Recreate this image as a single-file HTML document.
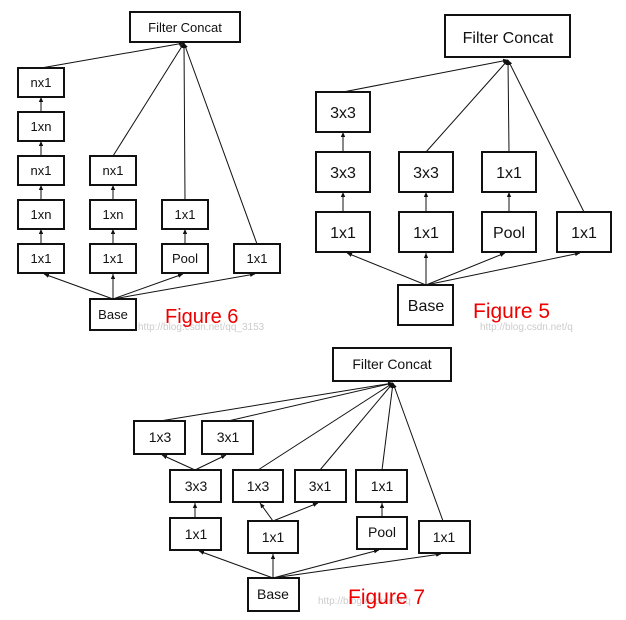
<!DOCTYPE html>
<html><head><meta charset="utf-8"><style>
html,body{margin:0;padding:0;background:#fff;}
svg{display:block;}
text{font-family:"Liberation Sans",sans-serif;}
</style></head><body>
<svg width="626" height="620" viewBox="0 0 626 620" xmlns="http://www.w3.org/2000/svg">
<defs><marker id="a" markerWidth="6" markerHeight="6" refX="5" refY="3" orient="auto" markerUnits="userSpaceOnUse"><path d="M0,0.8 L5,3 L0,5.2z" fill="#111"/></marker></defs>
<g stroke="#111" stroke-width="1" fill="none" marker-end="url(#a)">
<line x1="41" y1="68" x2="184" y2="43"/>
<line x1="113" y1="156" x2="184" y2="43"/>
<line x1="185" y1="200" x2="184" y2="43"/>
<line x1="257" y1="244" x2="184" y2="43"/>
<line x1="41" y1="112" x2="41" y2="97"/>
<line x1="41" y1="156" x2="41" y2="141"/>
<line x1="41" y1="200" x2="41" y2="185"/>
<line x1="41" y1="244" x2="41" y2="229"/>
<line x1="113" y1="200" x2="113" y2="185"/>
<line x1="113" y1="244" x2="113" y2="229"/>
<line x1="185" y1="244" x2="185" y2="229"/>
<line x1="113" y1="299" x2="44" y2="274"/>
<line x1="113" y1="299" x2="113" y2="274"/>
<line x1="113" y1="299" x2="183" y2="274"/>
<line x1="113" y1="299" x2="255" y2="274"/>
<line x1="343" y1="92" x2="508" y2="60"/>
<line x1="426" y1="152" x2="508" y2="60"/>
<line x1="509" y1="152" x2="508" y2="60"/>
<line x1="584" y1="212" x2="508" y2="60"/>
<line x1="343" y1="152" x2="343" y2="132"/>
<line x1="343" y1="212" x2="343" y2="192"/>
<line x1="426" y1="212" x2="426" y2="192"/>
<line x1="509" y1="212" x2="509" y2="192"/>
<line x1="426" y1="285" x2="347" y2="253"/>
<line x1="426" y1="285" x2="426" y2="253"/>
<line x1="426" y1="285" x2="505" y2="253"/>
<line x1="426" y1="285" x2="580" y2="253"/>
<line x1="160" y1="421" x2="393" y2="383"/>
<line x1="228" y1="421" x2="393" y2="383"/>
<line x1="258" y1="470" x2="393" y2="383"/>
<line x1="320" y1="470" x2="393" y2="383"/>
<line x1="382" y1="470" x2="393" y2="383"/>
<line x1="443" y1="521" x2="393" y2="383"/>
<line x1="195" y1="470" x2="162" y2="455"/>
<line x1="195" y1="470" x2="226" y2="455"/>
<line x1="195" y1="518" x2="195" y2="503"/>
<line x1="273" y1="521" x2="260" y2="503"/>
<line x1="273" y1="521" x2="318" y2="503"/>
<line x1="382" y1="517" x2="382" y2="503"/>
<line x1="273" y1="578" x2="199" y2="551"/>
<line x1="273" y1="578" x2="273" y2="554"/>
<line x1="273" y1="578" x2="379" y2="550"/>
<line x1="273" y1="578" x2="441" y2="554"/>
</g>
<g stroke="#111" stroke-width="2" fill="#fff">
<rect x="130" y="12" width="110" height="30"/>
<rect x="18" y="68" width="46" height="29"/>
<rect x="18" y="112" width="46" height="29"/>
<rect x="18" y="156" width="46" height="29"/>
<rect x="90" y="156" width="46" height="29"/>
<rect x="18" y="200" width="46" height="29"/>
<rect x="90" y="200" width="46" height="29"/>
<rect x="162" y="200" width="46" height="29"/>
<rect x="18" y="244" width="46" height="29"/>
<rect x="90" y="244" width="46" height="29"/>
<rect x="162" y="244" width="46" height="29"/>
<rect x="234" y="244" width="46" height="29"/>
<rect x="90" y="299" width="46" height="31"/>
<rect x="445" y="15" width="125" height="42"/>
<rect x="316" y="92" width="54" height="40"/>
<rect x="316" y="152" width="54" height="40"/>
<rect x="399" y="152" width="54" height="40"/>
<rect x="482" y="152" width="54" height="40"/>
<rect x="316" y="212" width="54" height="40"/>
<rect x="399" y="212" width="54" height="40"/>
<rect x="482" y="212" width="54" height="40"/>
<rect x="557" y="212" width="54" height="40"/>
<rect x="398" y="285" width="55" height="40"/>
<rect x="333" y="348" width="118" height="33"/>
<rect x="134" y="421" width="51" height="33"/>
<rect x="202" y="421" width="51" height="33"/>
<rect x="170" y="470" width="51" height="32"/>
<rect x="233" y="470" width="50" height="32"/>
<rect x="295" y="470" width="51" height="32"/>
<rect x="356" y="470" width="51" height="32"/>
<rect x="170" y="518" width="51" height="32"/>
<rect x="248" y="521" width="50" height="32"/>
<rect x="357" y="517" width="50" height="32"/>
<rect x="419" y="521" width="51" height="32"/>
<rect x="248" y="578" width="51" height="33"/>
</g>
<g fill="#111" text-anchor="middle" font-size="13">
<text x="185" y="32">Filter Concat</text>
<text x="41" y="87">nx1</text><text x="41" y="131">1xn</text><text x="41" y="175">nx1</text>
<text x="113" y="175">nx1</text><text x="41" y="219">1xn</text><text x="113" y="219">1xn</text>
<text x="185" y="219">1x1</text><text x="41" y="263">1x1</text><text x="113" y="263">1x1</text>
<text x="185" y="263">Pool</text><text x="257" y="263">1x1</text><text x="113" y="319">Base</text>
</g>
<g fill="#111" text-anchor="middle" font-size="16">
<text x="508" y="43">Filter Concat</text>
<text x="343" y="118">3x3</text><text x="343" y="178">3x3</text><text x="426" y="178">3x3</text>
<text x="509" y="178">1x1</text><text x="343" y="238">1x1</text><text x="426" y="238">1x1</text>
<text x="509" y="238">Pool</text><text x="584" y="238">1x1</text><text x="426" y="311">Base</text>
</g>
<g fill="#111" text-anchor="middle" font-size="14">
<text x="392" y="369">Filter Concat</text>
<text x="160" y="442">1x3</text><text x="228" y="442">3x1</text>
<text x="196" y="491">3x3</text><text x="258" y="491">1x3</text><text x="320" y="491">3x1</text><text x="382" y="491">1x1</text>
<text x="196" y="539">1x1</text><text x="273" y="542">1x1</text><text x="382" y="537">Pool</text><text x="444" y="542">1x1</text>
<text x="273" y="599">Base</text>
</g>
<g fill="#ccc" font-family="Liberation Mono,monospace" font-size="10">
<text x="138" y="330">http://blog.csdn.net/qq_3153</text>
<text x="480" y="330">http://blog.csdn.net/q</text>
<text x="318" y="604">http://blog.csdn.net/q</text>
</g>
<g fill="#e00" font-family="DejaVu Sans,sans-serif">
<text x="165" y="323" font-size="20">Figure 6</text>
<text x="473" y="318" font-size="21">Figure 5</text>
<text x="348" y="604" font-size="21">Figure 7</text>
</g>
</svg>
</body></html>
